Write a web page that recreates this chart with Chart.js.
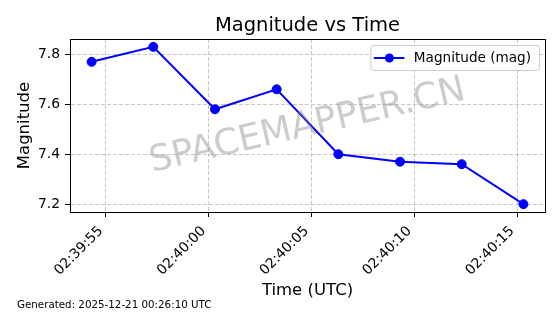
<!DOCTYPE html>
<html>
<head>
<meta charset="utf-8">
<script src="https://cdn.jsdelivr.net/npm/chart.js@4.4.1/dist/chart.umd.min.js"></script>
<style>
  html, body { margin: 0; padding: 0; background: #fff; }
</style>
</head>
<body>
<canvas id="magChart" width="560" height="314"></canvas>
<script>
const timeLabels = ['02:39:54.3', '02:39:57.3', '02:40:00.3', '02:40:03.3', '02:40:06.3', '02:40:09.3', '02:40:12.3', '02:40:15.3'];
const magnitudes = [7.77, 7.83, 7.58, 7.66, 7.40, 7.37, 7.36, 7.20];
const seriesLabel = 'Magnitude (mag)';
const xTickStep = 5;    // seconds between time ticks
const yTickStep = 0.2;
const chartTitle = 'Magnitude vs Time';
const xTitle = 'Time (UTC)';
const yTitle = 'Magnitude';
const watermark = 'SPACEMAPPER.CN';
const footer = 'Generated: 2025-12-21 00:26:10 UTC';

const FONT = '"DejaVu Sans", Verdana, sans-serif';
const BLUE = '#0000ff';

const toSeconds = (t) => {
    const [h, m, s] = t.split(':');
    return (+h) * 3600 + (+m) * 60 + parseFloat(s);
};
const pad2 = (n) => String(n).padStart(2, '0');
const fmtTime = (sec) => {
    const r = Math.round(sec);
    return pad2(Math.floor(r / 3600)) + ':' + pad2(Math.floor(r / 60) % 60) + ':' + pad2(r % 60);
};

const points = timeLabels.map((t, i) => ({ x: toSeconds(t), y: magnitudes[i] }));

// matplotlib style 5% margins
const margin = (vals) => {
    const lo = Math.min(...vals), hi = Math.max(...vals);
    const m = (hi - lo) * 0.05;
    return [lo - m, hi + m];
};
const [xMin, xMax] = margin(points.map(p => p.x));
const [yMin, yMax] = margin(magnitudes);

const titlePlugin = {
    id: 'mplTitle',
    afterDraw(chart) {
        const { ctx, chartArea } = chart;
        ctx.save();
        ctx.font = '19.5px ' + FONT;
        ctx.fillStyle = '#000';
        ctx.textAlign = 'center';
        ctx.textBaseline = 'alphabetic';
        ctx.fillText(chartTitle, (chartArea.left + chartArea.right) / 2, 31);
        ctx.font = '10.3px ' + FONT;
        ctx.textAlign = 'left';
        ctx.textBaseline = 'middle';
        ctx.fillText(footer, 17, 305);
        ctx.restore();
    }
};

const watermarkPlugin = {
    id: 'watermark',
    afterDatasetsDraw(chart) {
        const { ctx, chartArea } = chart;
        ctx.save();
        ctx.translate((chartArea.left + chartArea.right) / 2, 126.5);
        ctx.rotate(-13 * Math.PI / 180);
        ctx.font = '36px ' + FONT;
        ctx.fillStyle = 'rgba(128,128,128,0.4)';
        ctx.textAlign = 'center';
        ctx.textBaseline = 'middle';
        ctx.fillText(watermark, 0, 0);
        ctx.restore();
    }
};

const framePlugin = {
    id: 'frame',
    afterDraw(chart) {
        const { ctx, chartArea: a } = chart;
        ctx.save();
        ctx.strokeStyle = '#000';
        ctx.lineWidth = 1;
        ctx.strokeRect(Math.round(a.left) + 0.5, Math.round(a.top) + 0.5, Math.round(a.right - a.left), Math.round(a.bottom - a.top));
        ctx.restore();
    }
};

const legendPlugin = {
    id: 'mplLegend',
    afterDraw(chart) {
        const { ctx, chartArea } = chart;
        const ds = chart.data.datasets[0];
        ctx.save();
        ctx.font = '13.6px ' + FONT;
        const textW = ctx.measureText(ds.label).width;
        const h = 25;
        const w = 43.5 + textW + 8;
        const right = chartArea.right - 6;
        const top = chartArea.top + 6.5;
        const left = right - w;
        ctx.beginPath();
        ctx.roundRect(left + 0.5, top, w, h, 3);
        ctx.fillStyle = 'rgba(255,255,255,0.8)';
        ctx.fill();
        ctx.strokeStyle = '#cccccc';
        ctx.lineWidth = 1;
        ctx.stroke();
        const cy = top + h / 2;
        ctx.beginPath();
        ctx.moveTo(left + 3.5, cy);
        ctx.lineTo(left + 34, cy);
        ctx.strokeStyle = ds.borderColor;
        ctx.lineWidth = ds.borderWidth;
        ctx.stroke();
        ctx.beginPath();
        ctx.arc(left + 19, cy, ds.pointRadius, 0, Math.PI * 2);
        ctx.fillStyle = ds.pointBackgroundColor;
        ctx.fill();
        ctx.fillStyle = '#000';
        ctx.textBaseline = 'middle';
        ctx.fillText(ds.label, left + 43.5, cy + 0.5);
        ctx.restore();
    }
};

new Chart(document.getElementById('magChart'), {
    type: 'line',
    data: {
        datasets: [{
            label: seriesLabel,
            data: points,
            borderColor: BLUE,
            backgroundColor: BLUE,
            pointBackgroundColor: BLUE,
            pointBorderColor: BLUE,
            borderWidth: 2,
            pointRadius: 4.5,
            pointBorderWidth: 1,
            tension: 0,
        }]
    },
    options: {
        responsive: false,
        animation: false,
        layout: { padding: { left: 0, right: 15, top: 39, bottom: 0 } },
        plugins: {
            legend: { display: false },
            title: { display: false },
            tooltip: { enabled: false },
        },
        scales: {
            x: {
                type: 'linear',
                min: xMin,
                max: xMax,
                afterFit: (scale) => { scale.height = 102; },
                ticks: {
                    stepSize: xTickStep,
                    includeBounds: false,
                    autoSkip: false,
                    maxRotation: 45,
                    minRotation: 45,
                    padding: 6,
                    labelOffset: -5,
                    color: '#000',
                    font: { family: FONT, size: 13.9 },
                    callback: (v) => fmtTime(v),
                },
                grid: {
                    color: 'rgba(176,176,176,0.7)',
                    lineWidth: 1,
                    drawTicks: true,
                    tickLength: 5,
                    tickColor: '#000',
                    tickWidth: 1,
                    tickBorderDash: [],
                },
                border: { display: true, color: '#000', width: 1, dash: [4, 2] },
                title: {
                    display: true,
                    text: xTitle,
                    color: '#000',
                    font: { family: FONT, size: 16.5 },
                    padding: { top: 0, bottom: 13.5 },
                },
            },
            y: {
                min: yMin,
                max: yMax,
                afterFit: (scale) => { scale.width = 70; },
                ticks: {
                    stepSize: yTickStep,
                    includeBounds: false,
                    padding: 5,
                    color: '#000',
                    font: { family: FONT, size: 13.9 },
                    callback: (v) => v.toFixed(1),
                },
                grid: {
                    color: 'rgba(176,176,176,0.7)',
                    lineWidth: 1,
                    drawTicks: true,
                    tickLength: 5,
                    tickColor: '#000',
                    tickWidth: 1,
                    tickBorderDash: [],
                },
                border: { display: true, color: '#000', width: 1, dash: [4, 2] },
                title: {
                    display: true,
                    text: yTitle,
                    color: '#000',
                    font: { family: FONT, size: 16.5 },
                    padding: { top: 15, bottom: 0 },
                },
            },
        },
    },
    plugins: [watermarkPlugin, framePlugin, legendPlugin, titlePlugin],
});
</script>
</body>
</html>
